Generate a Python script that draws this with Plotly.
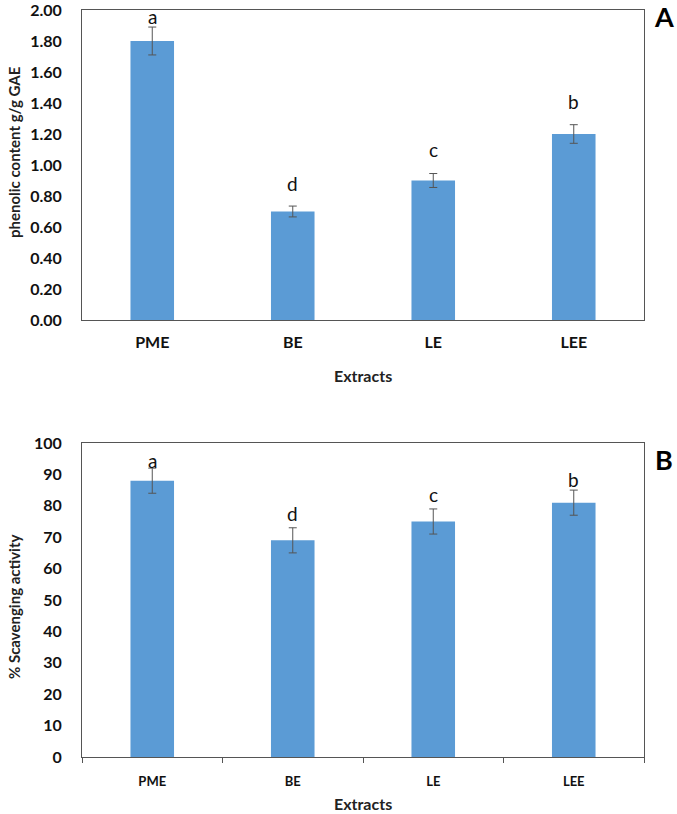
import plotly.graph_objects as go

categories = ["PME", "BE", "LE", "LEE"]

phenolic = [1.80, 0.70, 0.90, 1.20]
phenolic_err = [0.09, 0.035, 0.045, 0.06]
phenolic_letters = ["a", "d", "c", "b"]
phenolic_letter_y = [1.96, 0.88, 1.10, 1.41]
phenolic_ticks = [0.0, 0.2, 0.4, 0.6, 0.8, 1.0, 1.2, 1.4, 1.6, 1.8, 2.0]

scav = [88, 69, 75, 81]
scav_err = [4, 4, 4, 4]
scav_letters = ["a", "d", "c", "b"]
scav_letter_y = [94.5, 77.5, 83.5, 88.5]
scav_ticks = list(range(0, 101, 10))

W, H = 677, 814
BAR = "#5B9BD5"
FONT = "Lato"

def fx(px):
    return px / W

def fy(py):
    return 1 - py / H

fig = go.Figure()

fig.add_trace(go.Bar(
    x=categories, y=phenolic, width=0.31, marker=dict(color=BAR, line=dict(width=0)),
    error_y=dict(type="data", array=phenolic_err, color="#555555", thickness=1, width=4),
    xaxis="x", yaxis="y", showlegend=False))

fig.add_trace(go.Bar(
    x=categories, y=scav, width=0.31, marker=dict(color=BAR, line=dict(width=0)),
    error_y=dict(type="data", array=scav_err, color="#555555", thickness=1, width=4),
    xaxis="x2", yaxis="y2", showlegend=False))

annotations = []
for c, t, yv in zip(categories, phenolic_letters, phenolic_letter_y):
    annotations.append(dict(x=c, y=yv, xref="x", yref="y", text=t, showarrow=False,
                            xanchor="center", yanchor="middle",
                            font=dict(family=FONT, size=19, color="#111")))
for c, t, yv in zip(categories, scav_letters, scav_letter_y):
    annotations.append(dict(x=c, y=yv, xref="x2", yref="y2", text=t, showarrow=False,
                            xanchor="center", yanchor="middle",
                            font=dict(family=FONT, size=19, color="#111")))

def paper_text(px, py, text, size, angle=0, color="#222"):
    return dict(x=fx(px), y=fy(py), xref="paper", yref="paper", text=text, showarrow=False,
                xanchor="center", yanchor="middle", textangle=angle,
                font=dict(family=FONT, size=size, color=color, weight="bold"))

annotations += [
    paper_text(363, 375, "Extracts", 16),
    paper_text(363, 803, "Extracts", 16),
    paper_text(14, 152, "phenolic content g/g GAE", 15, -90),
    paper_text(14, 607, "% Scavenging activity", 15, -90),
    paper_text(664, 17, "A", 27, 0, "#000"),
    paper_text(664, 459, "B", 27, 0, "#000"),
]

axis_common = dict(showline=True, linecolor="#555555", linewidth=1, mirror=True, showgrid=False,
                   zeroline=False, automargin=False)
CLEAR = "rgba(0,0,0,0)"

fig.update_layout(
    width=W, height=H, margin=dict(l=0, r=0, t=0, b=0, autoexpand=False),
    plot_bgcolor="white", paper_bgcolor="white",
    annotations=annotations,
    xaxis=dict(domain=[fx(82), fx(644)], anchor="y", range=[-0.5, 3.5], type="category",
               tickfont=dict(family=FONT, size=16, color="#111", weight="bold"), ticks="",
               ticklabelstandoff=8, **axis_common),
    yaxis=dict(domain=[fy(320), fy(10)], anchor="x", range=[0, 2.0], tickvals=phenolic_ticks,
               tickformat=".2f", ticks="outside", ticklen=16, tickcolor=CLEAR,
               ticklabeloverflow="allow",
               tickfont=dict(family=FONT, size=16, color="#111", weight="bold"), **axis_common),
    xaxis2=dict(domain=[fx(82), fx(644)], anchor="y2", range=[-0.5, 3.5], type="category",
                tickfont=dict(family=FONT, size=13, color="#111", weight="bold"), ticks="outside",
                tickson="boundaries", ticklen=5, tickcolor="#555555", ticklabelstandoff=12,
                **axis_common),
    yaxis2=dict(domain=[fy(757), fy(443)], anchor="x2", range=[0, 100], tickvals=scav_ticks,
                ticks="outside", ticklen=16, tickcolor=CLEAR, ticklabeloverflow="allow",
                tickfont=dict(family=FONT, size=16, color="#111", weight="bold"), **axis_common),
)

fig.write_html("out.html", config={"displayModeBar": False},
               post_script="document.body.style.margin='0';")
